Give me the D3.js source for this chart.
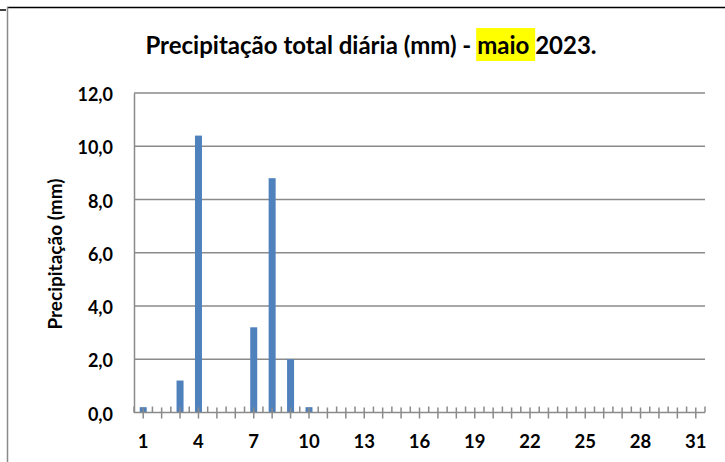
<!DOCTYPE html>
<html>
<head>
<meta charset="utf-8">
<script src="https://cdn.jsdelivr.net/npm/d3@7"></script>
<style>
  body { margin: 0; background: #fff; }
  text { font-family: Lato, sans-serif; font-weight: bold; fill: #000; }
</style>
</head>
<body>
<script>
// daily rainfall, may 2023
var days = d3.range(1, 32);
var rain = [0.2, 0, 1.2, 10.4, 0, 0, 3.2, 8.8, 2.0, 0.2,
            0, 0, 0, 0, 0, 0, 0, 0, 0, 0,
            0, 0, 0, 0, 0, 0, 0, 0, 0, 0, 0];
var yTicks = [0, 2, 4, 6, 8, 10, 12];
var xLabels = [1, 4, 7, 10, 13, 16, 19, 22, 25, 28, 31];

var width = 725, height = 462;
var svg = d3.select("body").append("svg").attr("width", width).attr("height", height);

var pLeft = 134, pRight = 705, pTop = 93, pBottom = 412.5;
var grey = "#8a8a8a";

// chart frame
svg.append("line").attr("x1", 7).attr("x2", width).attr("y1", 7.5).attr("y2", 7.5)
    .style("stroke", "#000").style("stroke-width", 1.5);
svg.append("line").attr("x1", 7.5).attr("x2", 7.5).attr("y1", 7).attr("y2", height)
    .style("stroke", grey).style("stroke-width", 1.5);
svg.append("line").attr("x1", 0).attr("x2", 6).attr("y1", 10).attr("y2", 10)
    .style("stroke", "#000").style("stroke-width", 1.5);

var x = d3.scaleBand().domain(days).range([pLeft, pRight]).paddingInner(0).paddingOuter(0);
var y = d3.scaleLinear().domain([0, 12]).range([pBottom, pTop]);

// gridlines
svg.selectAll(".grid").data(yTicks.slice(1)).enter().append("line")
    .attr("x1", pLeft).attr("x2", pRight)
    .attr("y1", function(d) { return y(d); }).attr("y2", function(d) { return y(d); })
    .style("stroke", grey).style("stroke-width", 1.5);

// bars
var bw = 7;
svg.selectAll(".bar").data(days).enter().append("rect")
    .attr("x", function(d) { return x(d) + x.bandwidth()/2 - bw/2; })
    .attr("y", function(d, i) { return y(rain[i]); })
    .attr("width", bw)
    .attr("height", function(d, i) { return pBottom - y(rain[i]); })
    .style("fill", "#4f81bd");

// y axis
var yAxis = svg.append("g").attr("transform", "translate(" + pLeft + ",0)")
    .call(d3.axisLeft(y).tickValues(yTicks).tickSize(0).tickPadding(21)
        .tickFormat(function(d) { return d3.format(".1f")(d).replace(".", ","); }));
yAxis.select(".domain").style("stroke", grey).style("stroke-width", 1.5);
yAxis.attr("font-family", null).attr("font-size", null);
yAxis.selectAll("text").style("font-size", "18px").attr("dy", "0.42em");

// x axis ticks
svg.append("line").attr("x1", pLeft).attr("x2", pRight).attr("y1", pBottom).attr("y2", pBottom)
    .style("stroke", grey).style("stroke-width", 1.5);
svg.selectAll(".tb").data(days.concat([32])).enter().append("line")
    .attr("x1", function(d) { return d == 32 ? pRight : x(d); })
    .attr("x2", function(d) { return d == 32 ? pRight : x(d); })
    .attr("y1", pBottom - 6).attr("y2", pBottom)
    .style("stroke", grey).style("stroke-width", 1.5);
svg.selectAll(".tc").data(days).enter().append("line")
    .attr("x1", function(d) { return x(d) + x.bandwidth()/2; })
    .attr("x2", function(d) { return x(d) + x.bandwidth()/2; })
    .attr("y1", pBottom - 5).attr("y2", pBottom + 6)
    .style("stroke", grey).style("stroke-width", 1.5);

svg.selectAll(".xl").data(xLabels).enter().append("text")
    .attr("x", function(d) { return x(d) + x.bandwidth()/2; })
    .attr("y", 448)
    .attr("text-anchor", "middle")
    .style("font-size", "18.5px")
    .text(function(d) { return d; });

// y label
svg.append("text")
    .attr("transform", "translate(62,254) rotate(-90)")
    .attr("text-anchor", "middle")
    .style("font-size", "19px")
    .text("Precipitação (mm)");

// title
var title = svg.append("text").attr("x", 371).attr("y", 54)
    .attr("text-anchor", "middle").style("font-size", "24px");
title.append("tspan").text("Precipitação total diária (mm) - ");
title.append("tspan").text("maio ");
title.append("tspan").text("2023.");
var st = title.node().getStartPositionOfChar(33).x;
var en = title.node().getEndPositionOfChar(37).x;
svg.insert("rect", function() { return title.node(); })
    .attr("x", st - 1).attr("y", 28).attr("width", en - st + 1).attr("height", 33)
    .style("fill", "#ffff00");
</script>
</body>
</html>
